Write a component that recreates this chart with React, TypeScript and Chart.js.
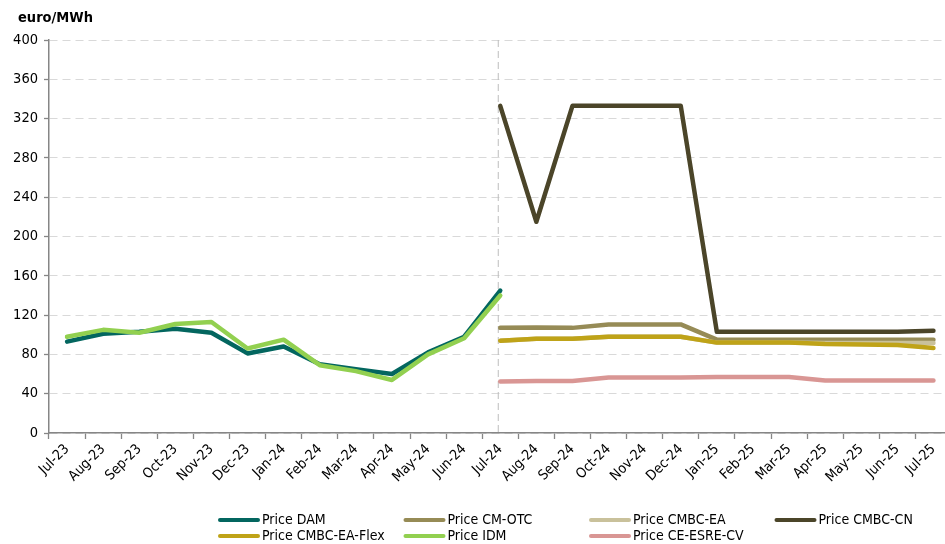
import { useEffect, useRef } from 'react';
import { Chart, registerables } from 'chart.js';

Chart.register(...registerables);

const MONTHS = [
  'Jul-23', 'Aug-23', 'Sep-23', 'Oct-23', 'Nov-23', 'Dec-23',
  'Jan-24', 'Feb-24', 'Mar-24', 'Apr-24', 'May-24', 'Jun-24',
  'Jul-24', 'Aug-24', 'Sep-24', 'Oct-24', 'Nov-24', 'Dec-24',
  'Jan-25', 'Feb-25', 'Mar-25', 'Apr-25', 'May-25', 'Jun-25', 'Jul-25',
];

const N = null;

const PRICE_DAM = [93, 101, 103, 106, 102, 81, 88, 70, 65, 60, 82, 98, 145, N, N, N, N, N, N, N, N, N, N, N, N];
const PRICE_CM_OTC = [N, N, N, N, N, N, N, N, N, N, N, N, 107, 107.5, 107, 110.5, 110.5, 110.5, 95, 95, 95, 95, 95, 95, 95];
const PRICE_CMBC_EA = [N, N, N, N, N, N, N, N, N, N, N, N, 94, 96, 96, 98, 98, 98, 92, 92, 92, 91.5, 91.5, 91.5, 91.5];
const PRICE_CMBC_CN = [N, N, N, N, N, N, N, N, N, N, N, N, 333, 215, 333, 333, 333, 333, 103, 103, 103, 103, 103, 103, 104];
const PRICE_CMBC_EA_FLEX = [N, N, N, N, N, N, N, N, N, N, N, N, 94, 96, 96, 98, 98, 98, 92, 92, 92, 90.5, 90, 89.5, 86.5];
const PRICE_IDM = [98, 105, 102, 111, 113, 86, 95, 69, 63, 54, 80, 96.5, 140, N, N, N, N, N, N, N, N, N, N, N, N];
const PRICE_CE_ESRE_CV = [N, N, N, N, N, N, N, N, N, N, N, N, 52.5, 53, 53, 56.5, 56.5, 56.5, 57, 57, 57, 53.5, 53.5, 53.5, 53.5];

const SERIES_LABELS = [
  'Price DAM', 'Price CM-OTC', 'Price CMBC-EA', 'Price CMBC-CN',
  'Price CMBC-EA-Flex', 'Price IDM', 'Price CE-ESRE-CV',
];
const SERIES_VALUES = [
  PRICE_DAM, PRICE_CM_OTC, PRICE_CMBC_EA, PRICE_CMBC_CN,
  PRICE_CMBC_EA_FLEX, PRICE_IDM, PRICE_CE_ESRE_CV,
];
const SERIES_COLORS = ['#03665f', '#968b56', '#c9c19b', '#4b4529', '#bfa318', '#92d050', '#d99694'];

const Y_MIN = 0;
const Y_MAX = 400;
const Y_STEP = 40;
const AXIS_TITLE = 'euro/MWh';
const SPLIT_MONTH = 'Jul-24';

const FONT = "'DejaVu Sans Condensed', 'DejaVu Sans', sans-serif";

const unitTitle = {
  id: 'unitTitle',
  afterDraw(chart: any, _args: any, opts: any) {
    const ctx = chart.ctx;
    ctx.save();
    ctx.fillStyle = opts.color;
    ctx.font = opts.font;
    ctx.textAlign = 'left';
    ctx.textBaseline = 'middle';
    ctx.fillText(opts.text, opts.x, opts.y);
    ctx.restore();
  },
};

const splitLine = {
  id: 'splitLine',
  beforeDatasetsDraw(chart: any, _args: any, opts: any) {
    const xs = chart.scales.x;
    const idx = chart.data.labels.indexOf(opts.label);
    if (idx < 0) return;
    const x = xs.getPixelForValue(idx) + opts.shift;
    const { top, bottom } = chart.chartArea;
    const ctx = chart.ctx;
    ctx.save();
    ctx.strokeStyle = opts.color;
    ctx.lineWidth = 1;
    ctx.setLineDash(opts.dash);
    ctx.beginPath();
    ctx.moveTo(x, top);
    ctx.lineTo(x, bottom);
    ctx.stroke();
    ctx.restore();
  },
};

const gridLegend = {
  id: 'gridLegend',
  afterDraw(chart: any, _args: any, opts: any) {
    const ctx = chart.ctx;
    ctx.save();
    chart.data.datasets.forEach((ds: any, i: number) => {
      const col = i % opts.columns;
      const row = Math.floor(i / opts.columns);
      const x = opts.left + col * opts.colWidth;
      const y = opts.top + row * opts.rowHeight;
      ctx.strokeStyle = ds.borderColor;
      ctx.lineWidth = 4;
      ctx.lineCap = 'round';
      ctx.setLineDash([]);
      ctx.beginPath();
      ctx.moveTo(x + 2, y);
      ctx.lineTo(x + opts.sampleWidth - 2, y);
      ctx.stroke();
      ctx.fillStyle = '#000';
      ctx.font = opts.font;
      ctx.textAlign = 'left';
      ctx.textBaseline = 'middle';
      ctx.fillText(ds.label, x + opts.sampleWidth + opts.gap, y);
    });
    ctx.restore();
  },
};

export default function App() {
  const ref = useRef<HTMLCanvasElement | null>(null);

  useEffect(() => {
    document.body.style.margin = '0';
    if (!ref.current) return;
    const chart = new Chart(ref.current, {
      type: 'line',
      data: {
        labels: MONTHS,
        datasets: SERIES_LABELS.map((label, i) => ({
          label,
          data: SERIES_VALUES[i],
          borderColor: SERIES_COLORS[i],
          backgroundColor: SERIES_COLORS[i],
          borderWidth: 4.5,
          pointRadius: 0,
          pointHoverRadius: 0,
          tension: 0,
          spanGaps: false,
          borderCapStyle: 'round',
          borderJoinStyle: 'round',
          order: SERIES_LABELS.length - i,
        })),
      },
      options: {
        animation: false,
        responsive: false,
        layout: { padding: { left: 0, right: 0.5, top: 40, bottom: 40 } },
        plugins: {
          legend: { display: false },
          tooltip: { enabled: false },
          title: { display: false },
          unitTitle: { text: AXIS_TITLE, x: 18, y: 18, color: '#000', font: `bold 14.5px ${FONT}` },
          splitLine: { label: SPLIT_MONTH, shift: -2, color: '#bdbdbd', dash: [7, 4] },
          gridLegend: {
            left: 218, top: 520, colWidth: 185.5, rowHeight: 16, columns: 4,
            sampleWidth: 42, gap: 2, font: `14px ${FONT}`,
          },
        } as any,
        scales: {
          x: {
            type: 'category',
            offset: true,
            afterFit: (s: any) => { s.height = 71; },
            grid: {
              offset: true,
              drawOnChartArea: false,
              drawTicks: true,
              tickLength: 6,
              tickColor: '#868686',
              tickWidth: 1.3,
            },
            border: { color: '#868686', width: 1.5 },
            ticks: {
              autoSkip: false,
              minRotation: 45,
              maxRotation: 45,
              padding: 2,
              color: '#000',
              font: { family: FONT, size: 14 },
            },
          },
          y: {
            min: Y_MIN,
            max: Y_MAX,
            afterFit: (s: any) => { s.width = 49; },
            grid: {
              color: '#d9d9d9',
              lineWidth: 1,
              drawTicks: true,
              tickLength: 5,
              tickColor: '#868686',
              tickWidth: 1.3,
            },
            border: { color: '#868686', width: 1.5, dash: [8, 5] },
            ticks: {
              stepSize: Y_STEP,
              padding: 6,
              color: '#000',
              font: { family: FONT, size: 14.5 },
            },
          },
        },
      },
      plugins: [unitTitle, splitLine, gridLegend],
    } as any);
    return () => chart.destroy();
  }, []);

  return (
    <div style={{ width: 945, height: 544, overflow: 'hidden', position: 'relative' }}>
      <canvas ref={ref} width={952} height={544} style={{ display: 'block' }} />
    </div>
  );
}
